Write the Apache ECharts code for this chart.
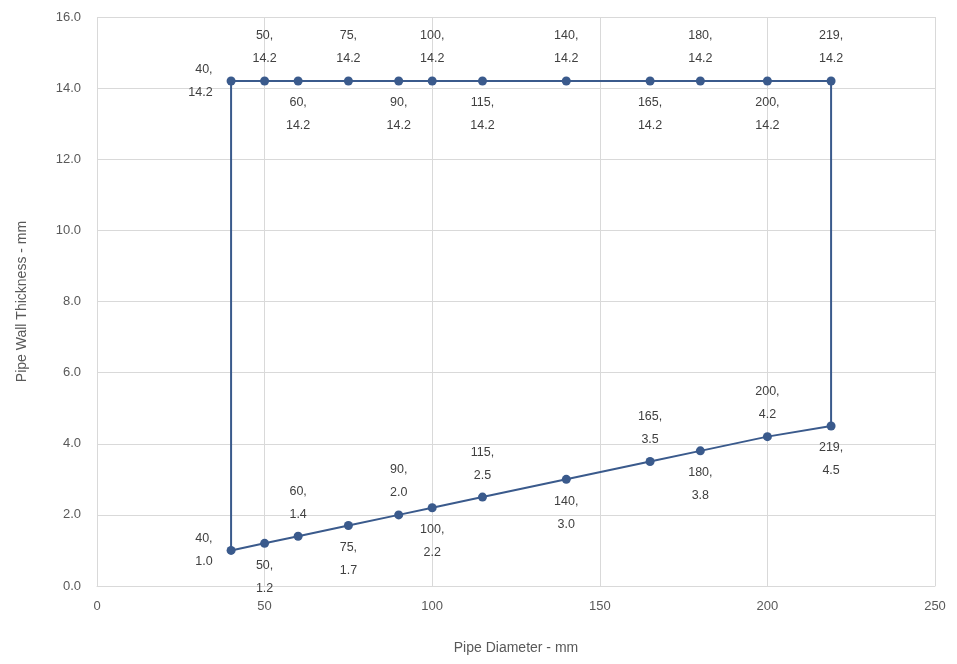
<!DOCTYPE html>
<html><head><meta charset="utf-8">
<script src="https://cdn.jsdelivr.net/npm/echarts@6/dist/echarts.min.js"></script>
<style>html,body{margin:0;padding:0;background:#fff}#c{width:957px;height:664px}</style>
</head><body><div id="c"></div>
<script>
const diameters = [40, 50, 60, 75, 90, 100, 115, 140, 165, 180, 200, 219];
const minThickness = [1.0, 1.2, 1.4, 1.7, 2.0, 2.2, 2.5, 3.0, 3.5, 3.8, 4.2, 4.5];
const maxThickness = [14.2, 14.2, 14.2, 14.2, 14.2, 14.2, 14.2, 14.2, 14.2, 14.2, 14.2, 14.2];
const minLabelPos = ['left','bottom','top','bottom','top','bottom','top','bottom','top','bottom','top','bottom'];
const maxLabelPos = ['left','top','bottom','top','bottom','top','bottom','top','bottom','top','bottom','top'];
const xTicks = [0, 50, 100, 150, 200, 250];
const yTicks = [0, 2, 4, 6, 8, 10, 12, 14, 16];

const fmt = (x, y) => x + ',\n' + y.toFixed(1);
const lbl = (pos, text) => ({show: true, position: pos, formatter: text, distance: pos === 'left' ? 14 : 6});
const pts = [];
diameters.forEach((d, i) => pts.push({value: [d, minThickness[i]], label: lbl(minLabelPos[i], fmt(d, minThickness[i]))}));
for (let i = diameters.length - 1; i >= 0; i--) {
  pts.push({value: [diameters[i], maxThickness[i]], label: lbl(maxLabelPos[i], fmt(diameters[i], maxThickness[i]))});
}
pts.push({value: [diameters[0], minThickness[0]], symbol: 'none', label: {show: false}});

const font = 'Liberation Sans, Arial, sans-serif';
const chart = echarts.init(document.getElementById('c'), null, {renderer: 'canvas'});
chart.setOption({
  animation: false,
  grid: {left: 97, right: 22, top: 17, bottom: 78},
  xAxis: {
    type: 'value', min: xTicks[0], max: xTicks[xTicks.length - 1], interval: 50,
    name: 'Pipe Diameter - mm', nameLocation: 'middle', nameGap: 55,
    nameTextStyle: {color: '#595959', fontSize: 14, fontFamily: font},
    axisLine: {show: true, lineStyle: {color: '#d9d9d9'}},
    axisTick: {show: false},
    axisLabel: {color: '#595959', fontSize: 13, fontFamily: font, margin: 14},
    splitLine: {show: true, lineStyle: {color: '#d9d9d9'}}
  },
  yAxis: {
    type: 'value', min: yTicks[0], max: yTicks[yTicks.length - 1], interval: 2,
    name: 'Pipe Wall Thickness - mm', nameLocation: 'middle', nameGap: 68,
    nameTextStyle: {color: '#595959', fontSize: 14, fontFamily: font},
    axisLine: {show: false}, axisTick: {show: false},
    axisLabel: {color: '#595959', fontSize: 13, fontFamily: font, margin: 16, formatter: v => v.toFixed(1)},
    splitLine: {show: true, lineStyle: {color: '#d9d9d9'}}
  },
  series: [{
    type: 'line', data: pts,
    symbol: 'circle', symbolSize: 9,
    lineStyle: {color: '#3a5a8c', width: 2},
    itemStyle: {color: '#3a5a8c'},
    label: {color: '#404040', fontSize: 12.5, fontFamily: font, lineHeight: 23},
    labelLayout: {hideOverlap: false}
  }]
});
</script></body></html>
